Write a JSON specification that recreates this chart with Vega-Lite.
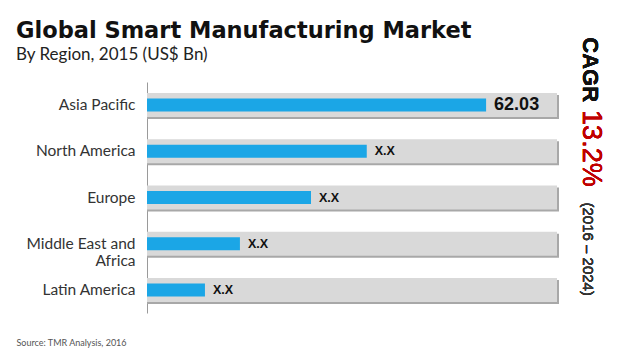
{
  "$schema": "https://vega.github.io/schema/vega-lite/v6.json",
  "autosize": {"type": "none"},
  "padding": {"left": 147, "top": 82, "right": 63, "bottom": 46},
  "width": 410,
  "height": 231,
  "background": "white",
  "title": {
    "text": "Global Smart Manufacturing Market",
    "subtitle": "By Region, 2015 (US$ Bn)",
    "anchor": "start",
    "frame": "group",
    "dx": -131,
    "dy": 50,
    "offset": 24,
    "font": "DejaVu Sans",
    "fontSize": 22.5,
    "fontWeight": "bold",
    "color": "#111111",
    "subtitleFont": "Lato",
    "subtitleFontSize": 17,
    "subtitleColor": "#222222",
    "subtitlePadding": 5
  },
  "data": {
    "values": [
      {"region": "Asia Pacific", "value": 62.03, "label": "62.03"},
      {"region": "North America", "value": 40.2, "label": "X.X"},
      {"region": "Europe", "value": 30.0, "label": "X.X"},
      {"region": "Middle East and Africa", "value": 17.0, "label": "X.X"},
      {"region": "Latin America", "value": 10.6, "label": "X.X"}
    ]
  },
  "encoding": {
    "y": {
      "field": "region",
      "type": "nominal",
      "sort": null,
      "scale": {"paddingInner": 0, "paddingOuter": 0},
      "axis": {
        "title": null,
        "ticks": false,
        "domainColor": "#9a9a9a",
        "domainWidth": 1,
        "labelFont": "Lato",
        "labelFontSize": 15.5,
        "labelColor": "#333333",
        "labelPadding": 12,
        "labelLineHeight": 17,
        "labelExpr": "datum.value == 'Middle East and Africa' ? ['Middle East and', 'Africa'] : datum.label"
      }
    }
  },
  "layer": [
    {
      "mark": {"type": "bar", "height": 24, "color": "#a8a8a8", "xOffset": 2, "yOffset": 2},
      "encoding": {"x": {"datum": 75, "type": "quantitative", "scale": {"domain": [0, 75]}, "axis": {
        "labels": false, "ticks": false, "domain": false, "grid": false,
        "title": "Source: TMR Analysis, 2016",
        "titleAnchor": "start", "titleX": -131, "titleY": 32, "titleBaseline": "alphabetic",
        "titleFont": "Lato", "titleFontSize": 9, "titleFontWeight": "normal", "titleColor": "#555555"
      }}}
    },
    {
      "mark": {"type": "bar", "height": 24, "color": "#d9d9d9"},
      "encoding": {"x": {"datum": 75, "type": "quantitative", "scale": {"domain": [0, 75]}}}
    },
    {
      "mark": {"type": "bar", "height": 13, "color": "#1ba6e6"},
      "encoding": {"x": {"field": "value", "type": "quantitative", "scale": {"domain": [0, 75]}}}
    },
    {
      "mark": {"type": "text", "align": "left", "baseline": "middle", "dx": 8, "font": "Liberation Sans", "fontWeight": "bold", "color": "#111111"},
      "encoding": {
        "x": {"field": "value", "type": "quantitative", "scale": {"domain": [0, 75]}},
        "text": {"field": "label"},
        "size": {"condition": {"test": "datum.region == 'Asia Pacific'", "value": 18}, "value": 12.5}
      }
    },
    {
      "mark": {"type": "text", "angle": 90, "align": "right", "baseline": "middle", "dx": -3, "font": "Liberation Sans", "fontWeight": "bold", "fontSize": 22, "color": "#111111"},
      "encoding": {"x": {"datum": 81, "type": "quantitative", "scale": {"domain": [0, 75]}}, "y": {"datum": "Asia Pacific"}, "text": {"value": "CAGR"}}
    },
    {
      "mark": {"type": "text", "angle": 90, "align": "left", "baseline": "middle", "dx": 5, "font": "Liberation Sans", "fontWeight": "normal", "fontSize": 27, "color": "#c00000"},
      "encoding": {"x": {"datum": 81.3, "type": "quantitative", "scale": {"domain": [0, 75]}}, "y": {"datum": "Asia Pacific"}, "text": {"value": "13.2%"}}
    },
    {
      "mark": {"type": "text", "angle": 90, "align": "left", "baseline": "middle", "dx": 5, "font": "Liberation Sans", "fontWeight": "normal", "fontSize": 15, "color": "#333333"},
      "encoding": {"x": {"datum": 80.6, "type": "quantitative", "scale": {"domain": [0, 75]}}, "y": {"datum": "Europe"}, "text": {"value": "(2016 – 2024)"}}
    }
  ],
  "config": {"view": {"stroke": null}}
}
